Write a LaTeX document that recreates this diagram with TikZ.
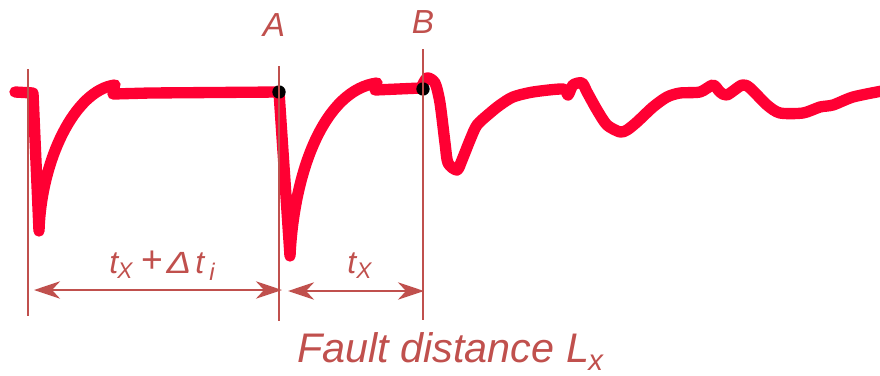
\documentclass[tikz,border=0pt]{standalone}
\usepackage{fontspec}
\setmainfont{Liberation Sans}
\usetikzlibrary{arrows.meta}
\definecolor{lin}{HTML}{C0504D}
\definecolor{sig}{HTML}{FF0033}
\begin{document}
\begin{tikzpicture}[x=0.75pt,y=-0.75pt,
  marker/.style={draw=lin, line width=2pt},
  dimline/.style={draw=lin, line width=2pt,
    {Stealth[length=19.5pt,width=13pt,inset=6pt]}-{Stealth[length=19.5pt,width=13pt,inset=6pt]}},
  wave/.style={draw=sig, line width=8.5pt, line cap=round, line join=round},
  dot/.style={fill=black, circle, minimum size=10pt, inner sep=0pt},
  lbl/.style={text=lin, inner sep=0pt, anchor=base},
  lblw/.style={text=lin, inner sep=0pt, anchor=base west}]
\useasboundingbox (0,0) rectangle (880,375);

% signal
\draw[wave] (15,92) -- (33,93) -- (39,231)
  .. controls (41,160) and (75,90) .. (115,85);
\draw[wave] (113,94) -- (150,93) -- (279,92) -- (290,256)
  .. controls (294,170) and (325,90) .. (377,83);
\draw[wave] (375,90) -- (421,88)
  plot[smooth, tension=0.45] coordinates {(421,88) (427,78) (435,83) (440,103) (445,143) (448,163) (457,170) (462,160) (470,140) (477,125) (490,113) (500,105) (513,97) (533,92) (563,89) (568,95) (573,85) (582,83) (587,92) (597,110) (607,125) (620,132) (627,130) (637,122) (653,107) (667,97) (680,93) (700,92) (713,85) (720,92) (727,95) (742,85) (750,88) (767,105) (780,113) (803,113) (820,107) (833,105) (853,97) (882,91)};

\node[dot] (da) at (279,92) {};
\node[dot] (db) at (423,89) {};

% marker lines
\coordinate (m0t) at (28,69);  \coordinate (m0b) at (28,316);
\coordinate (mat) at (279,66); \coordinate (mab) at (279,321);
\coordinate (mbt) at (423,49); \coordinate (mbb) at (423,320);
\draw[marker] (m0t) -- (m0b);
\draw[marker] (mat) -- (mab);
\draw[marker] (mbt) -- (mbb);

% dimension arrows
\coordinate (a1l) at (34,290);  \coordinate (a1r) at (282,290);
\coordinate (a2l) at (288,291); \coordinate (a2r) at (424,291);
\draw[dimline] (a1l) -- (a1r);
\draw[dimline] (a2l) -- (a2r);

% labels
\node[lbl, font=\itshape\fontsize{25}{30}\selectfont] (la) at (274,36) {A};
\node[lbl, font=\itshape\fontsize{25}{30}\selectfont] (lb) at (423,33) {B};

\node[lblw, font=\itshape\fontsize{24}{28}\selectfont] (t1) at (109,273) {t};
\node[lblw, font=\itshape\fontsize{17}{20}\selectfont] (x1) at (117,278) {X};
\node[lbl, font=\fontsize{28}{32}\selectfont] (pl) at (152,272) {+};
\node[lbl, font=\itshape\fontsize{23}{26}\selectfont] (dl) at (179,273) {\scalebox{1.2}[1]{Δ}};
\node[lblw, font=\itshape\fontsize{24}{28}\selectfont] (t2) at (195,273) {t};
\node[lblw, font=\itshape\fontsize{18}{20}\selectfont] (i2) at (209,280) {i};

\node[lblw, font=\itshape\fontsize{24}{28}\selectfont] (t3) at (347,273) {t};
\node[lblw, font=\itshape\fontsize{17}{20}\selectfont] (x3) at (356,278) {X};

\node[lblw, font=\itshape\fontsize{31}{36}\selectfont] (lf) at (297,362) {Fault distance L};
\node[lblw, font=\itshape\fontsize{22}{24}\selectfont] (lx) at (lf.base east) [xshift=-1pt, yshift=-6.5pt] {x};
\end{tikzpicture}
\end{document}
